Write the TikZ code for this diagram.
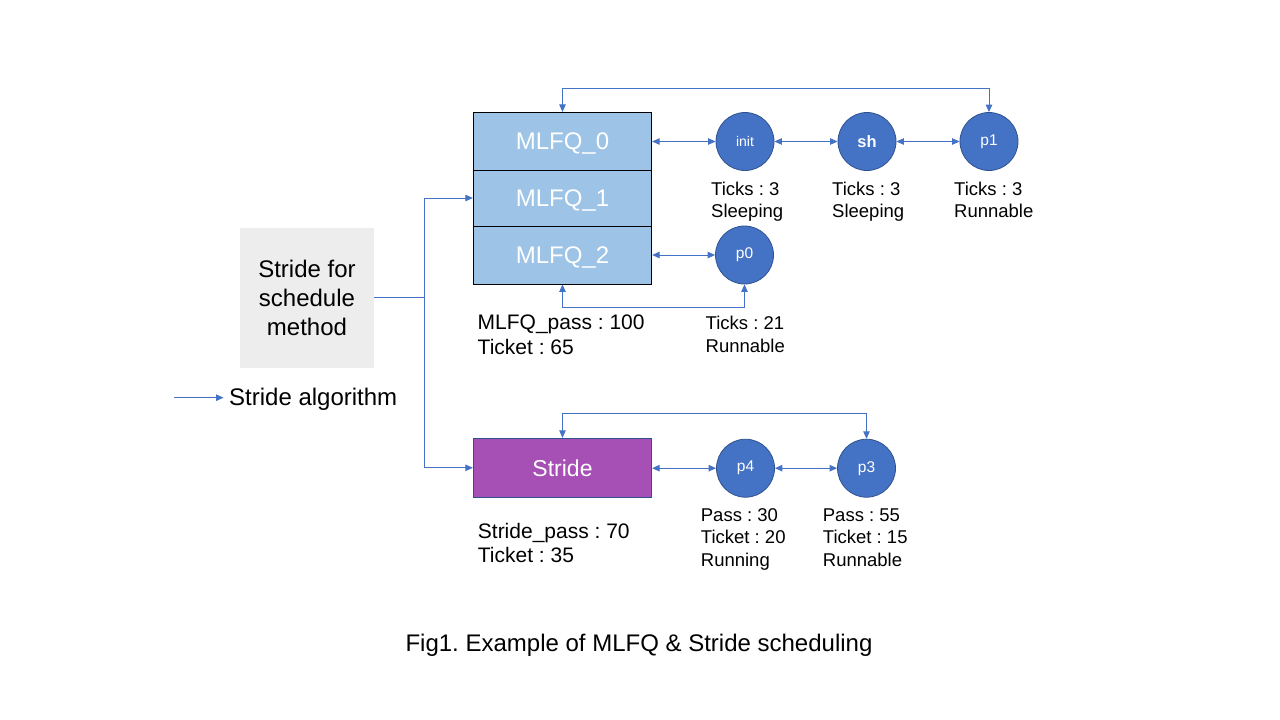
\documentclass[tikz,border=0pt]{standalone}
\usepackage{fontspec}
\setmainfont{Liberation Sans}
\usetikzlibrary{arrows.meta}
\frenchspacing
\definecolor{lineblue}{HTML}{4472C4}
\definecolor{mlfqblue}{HTML}{9DC3E6}
\definecolor{procblue}{HTML}{4472C4}
\definecolor{procborder}{HTML}{2F528F}
\definecolor{stridepurple}{HTML}{A64FB4}
\definecolor{grayfill}{HTML}{EDEDED}
\tikzset{
  conn/.style={draw=lineblue, line width=0.9pt},
  >={Triangle[length=7.5pt,width=6.5pt]},
  queuebox/.style={rectangle, draw=black, fill=mlfqblue, text=white, minimum width=178.4pt,
    font=\fontsize{24}{29}\selectfont, text height=17.2pt, text depth=0pt, inner sep=0pt, line width=0.9pt},
  stridebox/.style={rectangle, draw=procborder, fill=stridepurple, text=white, minimum width=178.4pt,
    minimum height=59pt, font=\fontsize{23}{29}\selectfont, text height=16.5pt, text depth=0pt, inner sep=0pt, line width=0.9pt},
  proc/.style={circle, fill=procblue, draw=procborder, minimum size=58pt, inner sep=0pt, text=white,
    font=\fontsize{15.5}{18}\selectfont, line width=0.8pt},
  info/.style={anchor=north west, inner sep=0pt, align=left, font=\fontsize{18.5}{22.5}\selectfont},
  qinfo/.style={anchor=north west, inner sep=0pt, align=left, font=\fontsize{21}{24.3}\selectfont},
}
\begin{document}
\begin{tikzpicture}[x=1pt,y=-1pt]
\useasboundingbox[fill=white] (0,0) rectangle (1280,720);

% MLFQ queues
\node[queuebox, minimum height=57.7pt] (m0) at (562.5,141.2) {MLFQ\_0};
\node[queuebox, minimum height=56pt] (m1) at (562.5,198) {MLFQ\_1};
\node[queuebox, minimum height=58pt] (m2) at (562.5,255) {MLFQ\_2};

% Stride queue
\node[stridebox] (st) at (562.5,467.8) {Stride};

% processes
\node[proc, font=\fontsize{14}{17}\selectfont] (init) at (745,141.5) {init};
\node[proc, font=\fontsize{16.5}{19}\selectfont\bfseries] (sh) at (867,141.5) {sh};
\node[proc] (p1) at (989,141.5) {p1};
\node[proc] (p0) at (744.5,255) {p0};
\node[proc] (p4) at (745.5,468.2) {p4};
\node[proc] (p3) at (866.5,468.2) {p3};

% gray box
\node[fill=grayfill, minimum width=134pt, minimum height=139.7pt, inner sep=0pt, align=center,
  font=\fontsize{24}{29}\selectfont] (method) at (307,297.85) {Stride for\\schedule\\method};

% labels
\node[info] (linit) at (711,181.7) {Ticks : 3\\Sleeping};
\node[info] (lsh) at (832,181.7) {Ticks : 3\\Sleeping};
\node[info] (lp1) at (954,181.7) {Ticks : 3\\Runnable};
\node[info] (lp0) at (705.5,316) {Ticks : 21\\Runnable};
\node[qinfo] (lmlfq) at (477.5,315) {MLFQ\_pass : 100\\Ticket : 65};
\node[qinfo] (lstride) at (477.7,522.7) {Stride\_pass : 70\\Ticket : 35};
\node[info] (lp4) at (700.7,508.3) {Pass : 30\\Ticket : 20\\Running};
\node[info] (lp3) at (822.7,508.3) {Pass : 55\\Ticket : 15\\Runnable};

% legend
\coordinate (legA) at (174,397.7);
\node[anchor=base west, inner sep=0pt, font=\fontsize{24}{29}\selectfont] (legtxt) at (229,405) {Stride algorithm};
\draw[conn,->,shorten >=5.5pt] (legA) -- (legA -| legtxt.west);

% caption
\node[anchor=base, inner sep=0pt, font=\fontsize{24}{29}\selectfont] (caption) at (639,651.7)
  {Fig1. Example of MLFQ \& Stride scheduling};

% connectors
\draw[conn,<->] (m0.east |- init.west) -- (init.west);
\draw[conn,<->] (init.east) -- (sh.west);
\draw[conn,<->] (sh.east) -- (p1.west);
\draw[conn,<->] (m0.north) -- ++(0,-23.3) -| (p1.north);

\draw[conn,<->] (m2.east) -- (p0.west);
\draw[conn,<->] (m2.south) -- ++(0,23.3) -| (p0.south);

\draw[conn,<->] (st.east |- p4.west) -- (p4.west);
\draw[conn,<->] (p4.east) -- (p3.west);
\draw[conn,<->] (st.north) -- ++(0,-24) -| (p3.north);

\draw[conn,->] (method.east) -- ++(50,0) |- (m1.west);
\draw[conn,->] (method.east) -- ++(50,0) |- (st.west);
\end{tikzpicture}
\end{document}
